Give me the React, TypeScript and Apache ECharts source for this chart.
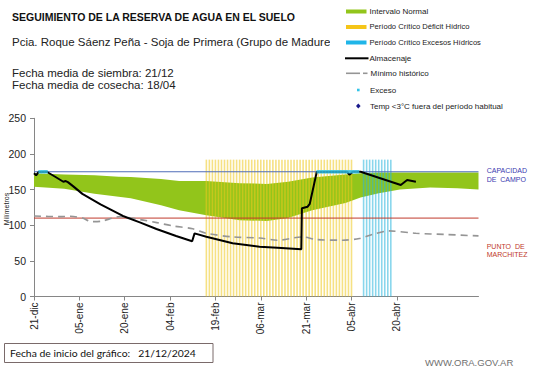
import React, { useEffect, useRef } from "react";
import * as echarts from "echarts";

// ---- axis ticks (days since 21-dic) ----
const tickDays = [0, 15, 30, 45, 60, 75, 90, 105, 120, 135];
const tickLabels = ["21-dic", "05-ene", "20-ene", "04-feb", "19-feb", "06-mar", "21-mar", "05-abr", "20-abr", "05-may"];

// ---- Intervalo normal (band) ----
const bandDays = [0, 10, 20, 28, 32, 42, 48, 57, 68, 77, 84, 92, 103, 108, 114, 121, 131, 140, 147];
const bandLow = [154, 151, 144, 140, 137.7, 128, 121, 114, 107, 106, 110, 121, 131, 139, 145, 150, 153, 152, 150];
const bandHigh = [173, 171, 170, 168, 167.5, 165, 162, 162, 159, 158, 161, 167, 171, 173, 174, 174, 174, 174, 174];

// ---- Almacenaje ----
const storageDays = [0, 0.7, 1.5, 4.2, 7, 9.7, 10.5, 11.2, 13, 16, 22, 29.4, 35, 40.5, 47, 52.3, 53.1, 57, 65.7, 74.6, 80.5, 88.4, 88.6, 90.5, 91.2, 93.5, 103.5, 104.3, 105.5, 108, 121.3, 123.4, 126.3];
const storageValues = [172.8, 170, 174.5, 175, 168, 161, 162, 160.5, 154.5, 144, 129.3, 113, 104, 94.7, 84.8, 77.5, 88.6, 83.9, 74.6, 69.8, 68.4, 66.2, 123.7, 126, 130, 174.5, 175, 171, 175, 175, 156.4, 163.4, 161];

// ---- Mínimo histórico ----
const minDays = [0, 8.6, 12, 16, 19, 22, 28.4, 35, 40.6, 45.9, 52.5, 57, 65.7, 74.6, 80.5, 88.8, 93.3, 102, 107.6, 111.9, 117.5, 126.3, 136.2, 147];
const minValues = [113, 112, 112.5, 110, 105, 105.5, 112, 108, 103.6, 99, 95, 88.7, 83.6, 82, 79, 83.6, 80, 79, 81.3, 87, 92, 88.7, 87, 85];

// ---- Exceso points ----
const excessDays = [2, 3, 4, 94, 95, 96, 97, 98, 99, 100, 101, 102, 103, 104, 105, 106, 107];
const excessValue = 175;

// ---- Critical periods (daily stripes) ----
const deficitPeriod = [57, 105];
const excessPeriod = [109, 118];
const periodBarTop = 192;

// ---- Reference levels ----
const fieldCapacity = 175;
const wiltingPoint = 110;
const axisEndDay = 147;

function dailyBars(period: number[]) {
  const out: number[][] = [];
  for (let d = period[0]; d <= period[1]; d++) out.push([d, periodBarTop]);
  return out;
}

export default function App() {
  const ref = useRef<HTMLDivElement>(null);
  useEffect(() => {
    if (!ref.current) return;
    const chart = echarts.init(ref.current, null, { renderer: "svg" });
    const F = "'Liberation Sans', Arial, sans-serif";
    const t = (text: string, x: number, y: number, font: string, fill: string, extra: any = {}) => ({
      type: "text",
      z: 100,
      style: { text, x, y, font, fill, textAlign: "left", textVerticalAlign: "middle", align: "left", verticalAlign: "middle", ...extra },
    });
    chart.setOption({
      animation: false,
      backgroundColor: "#ffffff",
      grid: { left: 34, right: 62.5, top: 118.3, bottom: 71.5, containLabel: false, outerBoundsMode: "none" },
      xAxis: {
        type: "value",
        min: 0,
        max: axisEndDay,
        interval: 15,
        splitLine: { show: false },
        axisLine: { show: true, lineStyle: { color: "#868686", width: 1 } },
        axisTick: { show: true, length: 4, lineStyle: { color: "#868686" }, customValues: tickDays },
        axisLabel: {
          rotate: 90,
          margin: 6,
          fontSize: 10,
          fontFamily: F,
          color: "#222",
          showMaxLabel: false,
          customValues: tickDays,
          formatter: (v: number) => {
            const i = tickDays.indexOf(Math.round(v));
            return i >= 0 ? tickLabels[i] : "";
          },
        },
      },
      yAxis: {
        type: "value",
        min: 0,
        max: 250,
        interval: 50,
        splitLine: { show: false },
        axisLine: { show: true, lineStyle: { color: "#868686", width: 1 } },
        axisTick: { show: true, length: 4, lineStyle: { color: "#868686" } },
        axisLabel: { fontSize: 10.5, fontFamily: F, color: "#222", margin: 8 },
      },
      series: [
        {
          name: "Intervalo Normal",
          type: "custom",
          data: bandDays.map((d, i) => [d, bandLow[i], bandHigh[i]]),
          encode: { x: 0, y: [1, 2] },
          renderItem: (params: any, api: any) => {
            if (params.dataIndex !== 0) return { type: "group", children: [] };
            const pts: number[][] = [];
            for (let i = 0; i < bandDays.length; i++) pts.push(api.coord([bandDays[i], bandHigh[i]]));
            for (let i = bandDays.length - 1; i >= 0; i--) pts.push(api.coord([bandDays[i], bandLow[i]]));
            return { type: "polygon", shape: { points: pts }, style: { fill: "#92C51B" } };
          },
          z: 1,
        },
        {
          name: "Período Crítico Déficit Hídrico",
          type: "bar",
          data: dailyBars(deficitPeriod),
          barWidth: 1.6,
          barGap: "-100%",
          itemStyle: { color: "rgba(238, 200, 30, 0.55)" },
          z: 2,
        },
        {
          name: "Período Crítico Excesos Hídricos",
          type: "bar",
          data: dailyBars(excessPeriod),
          barWidth: 1.6,
          barGap: "-100%",
          itemStyle: { color: "rgba(40, 180, 220, 0.55)" },
          z: 2,
        },
        {
          name: "Capacidad de campo",
          type: "line",
          data: [[0, fieldCapacity], [axisEndDay, fieldCapacity]],
          showSymbol: false,
          lineStyle: { color: "#4F6DB8", width: 1 },
          z: 3,
        },
        {
          name: "Punto de marchitez",
          type: "line",
          data: [[0, wiltingPoint], [axisEndDay, wiltingPoint]],
          showSymbol: false,
          lineStyle: { color: "#C0392B", width: 1 },
          z: 3,
        },
        {
          name: "Mínimo histórico",
          type: "line",
          data: minDays.map((d, i) => [d, minValues[i]]),
          showSymbol: false,
          smooth: 0.3,
          lineStyle: { color: "#959595", width: 1.6, type: [7, 5] },
          z: 3,
        },
        {
          name: "Almacenaje",
          type: "line",
          data: storageDays.map((d, i) => [d, storageValues[i]]),
          showSymbol: false,
          lineStyle: { color: "#000000", width: 2 },
          z: 4,
        },
        {
          name: "Exceso",
          type: "scatter",
          data: excessDays.map((d) => [d, excessValue]),
          symbol: "rect",
          symbolSize: [3.5, 3.5],
          itemStyle: { color: "#33C4E8" },
          z: 5,
        },
      ],
      graphic: [
        t("SEGUIMIENTO DE LA RESERVA DE AGUA EN EL SUELO", 12, 16.6, `bold 10.5px ${F}`, "#111"),
        t("Pcia. Roque Sáenz Peña - Soja de Primera (Grupo de Madurez", 12, 41.5, `11.5px ${F}`, "#222"),
        { type: "rect", z: 101, shape: { x: 330, y: 33, width: 15, height: 17 }, style: { fill: "#fff" } },
        t("Fecha media de siembra: 21/12", 12, 72.5, `11.5px ${F}`, "#222"),
        t("Fecha media de cosecha: 18/04", 12, 84.5, `11.5px ${F}`, "#222"),
        // y axis title
        {
          type: "text",
          z: 100,
          x: 6.5,
          y: 209,
          rotation: Math.PI / 2,
          style: { text: "Milímetros", font: `7px ${F}`, fill: "#222", textAlign: "center", textVerticalAlign: "middle", align: "center", verticalAlign: "middle" },
        },
        // legend
        { type: "rect", z: 100, shape: { x: 346, y: 9.5, width: 20.5, height: 4 }, style: { fill: "#92C51B" } },
        t("Intervalo Normal", 369.5, 11, `8px ${F}`, "#222"),
        { type: "rect", z: 100, shape: { x: 346, y: 25, width: 20.5, height: 4 }, style: { fill: "#F5C518" } },
        t("Período Crítico Déficit Hídrico", 369.5, 26.7, `7.6px ${F}`, "#222"),
        { type: "rect", z: 100, shape: { x: 346, y: 40.5, width: 20.5, height: 4 }, style: { fill: "#1FB5E8" } },
        t("Período Crítico Excesos Hídricos", 369.5, 42.3, `7.6px ${F}`, "#222"),
        { type: "line", z: 100, shape: { x1: 345, y1: 58.3, x2: 368.5, y2: 58.3 }, style: { stroke: "#000", lineWidth: 2 } },
        t("Almacenaje", 369.5, 58.3, `8px ${F}`, "#222"),
        { type: "line", z: 100, shape: { x1: 346, y1: 73.3, x2: 360, y2: 73.3 }, style: { stroke: "#959595", lineWidth: 1.6 } },
        { type: "line", z: 100, shape: { x1: 363, y1: 73.3, x2: 367.5, y2: 73.3 }, style: { stroke: "#959595", lineWidth: 1.6 } },
        t("Mínimo histórico", 370.5, 73.3, `8px ${F}`, "#222"),
        { type: "rect", z: 100, shape: { x: 357, y: 88.7, width: 2.6, height: 2.6 }, style: { fill: "#33C4E8" } },
        t("Exceso", 370, 90, `8px ${F}`, "#222"),
        { type: "polygon", z: 100, shape: { points: [[358.3, 103.6], [360.6, 106], [358.3, 108.4], [356, 106]] }, style: { fill: "#1A1A8C" } },
        t("Temp <3°C fuera del período habitual", 370, 106, `8px ${F}`, "#222"),
        // right labels
        t("CAPACIDAD", 486.7, 170.5, `7px ${F}`, "#3A3AB0"),
        t("DE  CAMPO", 486.7, 179, `7px ${F}`, "#3A3AB0"),
        t("PUNTO  DE", 486.7, 246.7, `7px ${F}`, "#C0392B"),
        t("MARCHITEZ", 486.7, 254.7, `7px ${F}`, "#C0392B"),
        // footer
        { type: "rect", z: 100, shape: { x: 4.5, y: 343.5, width: 208.5, height: 19 }, style: { fill: "#fff", stroke: "#7A6A6A", lineWidth: 1 } },
        t("Fecha de inicio del gráfico:   21/12/2024", 10, 353, `10.4px Lato, ${F}`, "#111"),
        t("WWW.ORA.GOV.AR", 425, 362, `9.5px ${F}`, "#707070"),
      ],
    });
    return () => chart.dispose();
  }, []);
  return <div ref={ref} style={{ position: "absolute", left: 0, top: 0, width: 541, height: 368 }} />;
}
